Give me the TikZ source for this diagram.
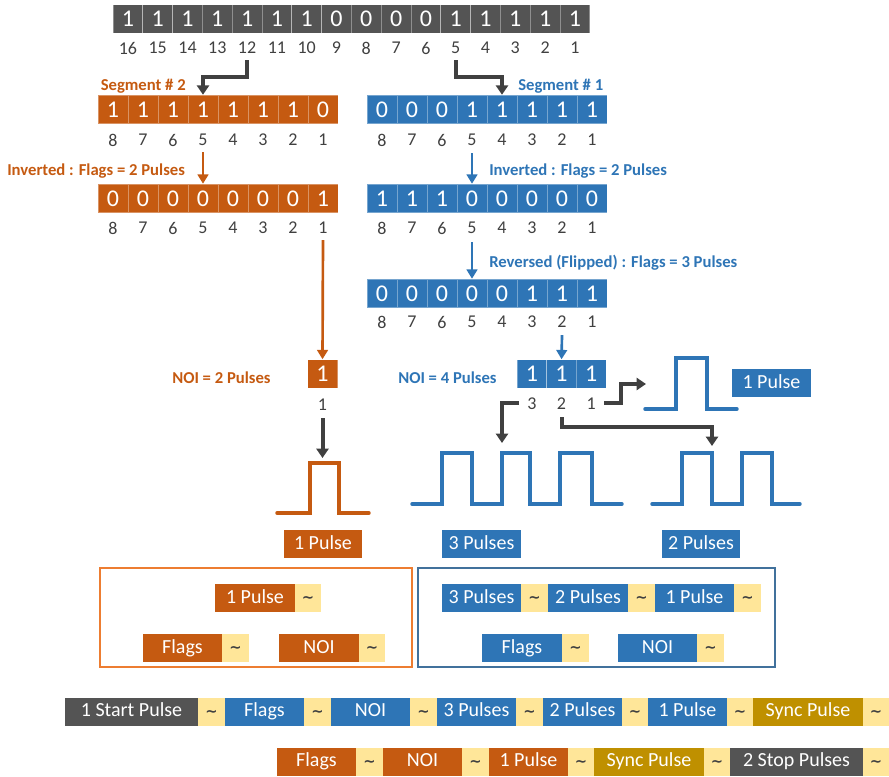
\documentclass[tikz,border=0pt]{standalone}
\usepackage{fontspec}
\setmainfont{Carlito}
\newfontfamily\tildefont{DejaVu Sans}
\usetikzlibrary{arrows.meta}
\definecolor{cOr}{HTML}{C55A11}
\definecolor{cBl}{HTML}{2E75B6}
\definecolor{cGr}{HTML}{545454}
\definecolor{cGo}{HTML}{BF9000}
\definecolor{cTi}{HTML}{FFE699}
\definecolor{cDk}{HTML}{404040}
\definecolor{cOf}{HTML}{ED7D31}
\definecolor{cBf}{HTML}{41719C}
\newcommand\LB[6]{\node[lbox,fill=#5,minimum width=#4*0.75pt] (#1) at (#2,#3) {#6};}
\newcommand\TL[4]{\node[tbox,minimum width=#4*0.75pt] (#1) at (#2,#3) {\textasciitilde};}
\begin{document}
\begin{tikzpicture}[x=0.75pt,y=-0.75pt,
  bitcell/.style={draw=white,draw opacity=0.35,line width=0.6pt,inner sep=0pt,
    minimum height=21.5pt,text=white,font=\fontsize{18}{20}\selectfont},
  num/.style={inner sep=0pt,text=cDk,font=\fontsize{13.5}{15}\selectfont},
  lbl/.style={inner sep=0pt,font=\bfseries\fontsize{12.5}{14}\selectfont},
  lbox/.style={inner sep=0pt,minimum height=21pt,text height=9.7pt,text depth=2pt,
    text=white,font=\fontsize{15}{17}\selectfont},
  tbox/.style={inner sep=0pt,minimum height=21pt,fill=cTi,text=cDk,text height=7.2pt,text depth=0pt,
    font=\tildefont\bfseries\fontsize{11}{13}\selectfont},
  darr/.style={draw=cDk,line width=3pt,-{Triangle[width=9pt,length=7pt]}},
  oarr/.style={draw=cOr,line width=2pt,-{Triangle[width=8pt,length=7pt]}},
  barr/.style={draw=cBl,line width=2pt,-{Triangle[width=8pt,length=7pt]}},
  pulse/.style={line width=2.6pt,line cap=round,line join=miter},
  frame/.style={line width=1.6pt}]
\path[use as bounding box] (0,0) rectangle (889,777);

% top row
\foreach \v [count=\i] in {1,1,1,1,1,1,1,0,0,0,0,1,1,1,1,1}{
  \pgfmathsetmacro\cx{113+29.8*(\i-0.5)}
  \pgfmathtruncatemacro\lab{17-\i}
  \node[bitcell,fill=cGr,minimum width=22.35pt] (top\lab) at (\cx,19) {\v};
  \node[num] (ntop\lab) at (\cx,48) {\lab};
}
% orange rows
\foreach \v [count=\i] in {1,1,1,1,1,1,1,0}{
  \pgfmathsetmacro\cx{98+30*(\i-0.5)}
  \pgfmathtruncatemacro\lab{9-\i}
  \node[bitcell,fill=cOr,minimum width=22.5pt] (oa\lab) at (\cx,109.5) {\v};
  \node[num] (noa\lab) at (\cx,140) {\lab};
}
\foreach \v [count=\i] in {0,0,0,0,0,0,0,1}{
  \pgfmathsetmacro\cx{98+30*(\i-0.5)}
  \pgfmathtruncatemacro\lab{9-\i}
  \node[bitcell,fill=cOr,minimum width=22.5pt] (ob\lab) at (\cx,198.5) {\v};
  \node[num] (nob\lab) at (\cx,228) {\lab};
}
% blue rows
\foreach \v [count=\i] in {0,0,0,1,1,1,1,1}{
  \pgfmathsetmacro\cx{367+30*(\i-0.5)}
  \pgfmathtruncatemacro\lab{9-\i}
  \node[bitcell,fill=cBl,minimum width=22.5pt] (ba\lab) at (\cx,109.5) {\v};
  \node[num] (nba\lab) at (\cx,140) {\lab};
}
\foreach \v [count=\i] in {1,1,1,0,0,0,0,0}{
  \pgfmathsetmacro\cx{367+30*(\i-0.5)}
  \pgfmathtruncatemacro\lab{9-\i}
  \node[bitcell,fill=cBl,minimum width=22.5pt] (bb\lab) at (\cx,198.5) {\v};
  \node[num] (nbb\lab) at (\cx,228) {\lab};
}
\foreach \v [count=\i] in {0,0,0,0,0,1,1,1}{
  \pgfmathsetmacro\cx{367+30*(\i-0.5)}
  \pgfmathtruncatemacro\lab{9-\i}
  \node[bitcell,fill=cBl,minimum width=22.5pt] (bc\lab) at (\cx,293.5) {\v};
  \node[num] (nbc\lab) at (\cx,322) {\lab};
}
\foreach \v [count=\i] in {1,1,1}{
  \pgfmathsetmacro\cx{517+29.7*(\i-0.5)}
  \pgfmathtruncatemacro\lab{4-\i}
  \node[bitcell,fill=cBl,minimum width=22.3pt] (bs\lab) at (\cx,374) {\v};
  \node[num] (nbs\lab) at (\cx,404) {\lab};
}
\node[bitcell,fill=cOr,minimum width=22.5pt] (os1) at (322.5,374) {1};
\node[num] (nos1) at (322.5,405) {1};

% labels
\node[lbl,text=cOr,anchor=east] (seg2) at (186,86) {Segment \# 2};
\node[lbl,text=cBl,anchor=west] (seg1) at (518,86) {Segment \# 1};
\node[lbl,text=cOr,anchor=west] (inv2) at (7,171) {Inverted : Flags = 2 Pulses};
\node[lbl,text=cBl,anchor=west] (inv1) at (489,171) {Inverted : Flags = 2 Pulses};
\node[lbl,text=cBl,anchor=west] (rev1) at (489,263) {Reversed (Flipped) : Flags = 3 Pulses};
\node[lbl,text=cBl,anchor=west] (noi1) at (398,378) {NOI = 4 Pulses};
\node[lbl,text=cOr,anchor=west] (noi2) at (172,378) {NOI = 2 Pulses};

% arrows
\draw[darr] (ntop12.south) ++(0,6) -- ++(0,17) -| (oa5.north);
\draw[darr] (ntop5.south) ++(0,6) -- ++(0,17) -| (ba4.north);
\draw[oarr] (noa5.south) ++(0,6) -- (ob5.north);
\draw[barr] (nba5.south) ++(0,7) -- (bb5.north);
\draw[barr] (nbb5.south) ++(0,8) -- (bc5.north);
\draw[barr] (nbc2.south) ++(0,7) -- (bs2.north);
\draw[oarr] (nob1.south) ++(0,6) -- (os1.north);
\coordinate (a8end) at (322.5,458);
\coordinate (a9end) at (646,384);
\coordinate (a10end) at (502,443);
\coordinate (a11end) at (712,446);
\draw[darr] (nos1.south) ++(0,7) -- (a8end);
\draw[darr] (nbs1.east) ++(8,-1) -- ++(17,0) |- (a9end);
\draw[darr] (nbs3.west) ++(-8,-1) -- ++(-16,0) -| (a10end);
\draw[darr] (nbs2.south) ++(0,7) -- ++(0,10) -| (a11end);

% pulses
\draw[pulse,cBl] (645,409) -- (676,409) -- (676,358) -- (707,358) -- (707,409) -- (737,409);
\draw[pulse,cBl] (412,504) -- (442,504) -- (442,453) -- (472,453) -- (472,504) -- (502,504)
  -- (502,453) -- (530,453) -- (530,504) -- (560,504) -- (560,453) -- (592,453) -- (592,504) -- (622,504);
\draw[pulse,cBl] (652,504) -- (682,504) -- (682,453) -- (712,453) -- (712,504) -- (742,504)
  -- (742,453) -- (772,453) -- (772,504) -- (800,504);
\draw[pulse,cOr] (277,513) -- (310,513) -- (310,463) -- (339,463) -- (339,513) -- (369,513);

% pulse labels
\LB{pl1}{771.5}{383}{79}{cBl}{1 Pulse}
\LB{pl3}{481.5}{544}{79}{cBl}{3 Pulses}
\LB{pl2}{701}{544}{78}{cBl}{2 Pulses}
\LB{plo}{323}{544}{78}{cOr}{1 Pulse}

% frames
\draw[frame,cOf] (100,568) rectangle (412,667);
\draw[frame,cBf] (418,568) rectangle (775,667);

\LB{fo1}{255}{598}{80}{cOr}{1 Pulse}
\TL{fo1t}{308}{598}{26}
\LB{fo2}{182.5}{648}{79}{cOr}{Flags}
\TL{fo2t}{235.5}{648}{27}
\LB{fo3}{319}{648}{80}{cOr}{NOI}
\TL{fo3t}{372}{648}{26}

\LB{fb1}{481.5}{598}{79}{cBl}{3 Pulses}
\TL{fb1t}{534.5}{598}{27}
\LB{fb2}{588}{598}{80}{cBl}{2 Pulses}
\TL{fb2t}{641.5}{598}{27}
\LB{fb3}{694.5}{598}{79}{cBl}{1 Pulse}
\TL{fb3t}{747.5}{598}{27}
\LB{fb4}{522}{648}{80}{cBl}{Flags}
\TL{fb4t}{575.5}{648}{27}
\LB{fb5}{657.5}{648}{79}{cBl}{NOI}
\TL{fb5t}{710.5}{648}{27}

% bottom row 1
\LB{r1a}{131.5}{711.5}{133}{cGr}{1 Start Pulse}
\TL{r1at}{211.5}{711.5}{27}
\LB{r1b}{264.5}{711.5}{79}{cBl}{Flags}
\TL{r1bt}{317.5}{711.5}{27}
\LB{r1c}{370.5}{711.5}{79}{cBl}{NOI}
\TL{r1ct}{423.5}{711.5}{27}
\LB{r1d}{476.5}{711.5}{79}{cBl}{3 Pulses}
\TL{r1dt}{529.5}{711.5}{27}
\LB{r1e}{582.5}{711.5}{79}{cBl}{2 Pulses}
\TL{r1et}{635}{711.5}{26}
\LB{r1f}{687.5}{711.5}{79}{cBl}{1 Pulse}
\TL{r1ft}{740}{711.5}{26}
\LB{r1g}{808}{711.5}{110}{cGo}{Sync Pulse}
\TL{r1gt}{876}{711.5}{26}

% bottom row 2
\LB{r2a}{316.5}{761.5}{79}{cOr}{Flags}
\TL{r2at}{369.5}{761.5}{27}
\LB{r2b}{422.5}{761.5}{79}{cOr}{NOI}
\TL{r2bt}{475.5}{761.5}{27}
\LB{r2c}{528.5}{761.5}{79}{cOr}{1 Pulse}
\TL{r2ct}{581}{761.5}{26}
\LB{r2d}{649}{761.5}{110}{cGo}{Sync Pulse}
\TL{r2dt}{717}{761.5}{26}
\LB{r2e}{796.5}{761.5}{133}{cGr}{2 Stop Pulses}
\TL{r2et}{876}{761.5}{26}
\end{tikzpicture}
\end{document}
